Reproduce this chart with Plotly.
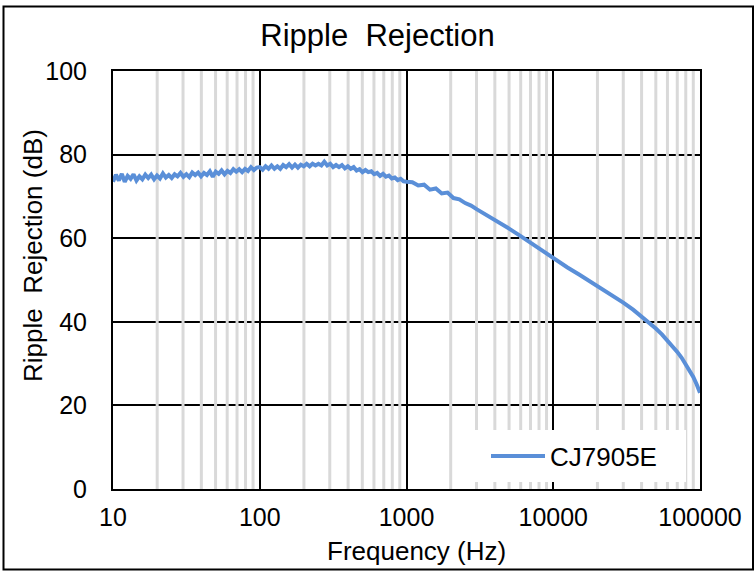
import plotly.graph_objects as go

# ---- data ----
freq_10_100 = [
    10.00, 10.47, 10.96, 11.48, 12.02, 12.59, 13.18, 13.80, 14.45, 15.14,
    15.85, 16.60, 17.38, 18.20, 19.05, 19.95, 20.89, 21.88, 22.91, 23.99,
    25.12, 26.30, 27.54, 28.84, 30.20, 31.62, 33.11, 34.67, 36.31, 38.02,
    39.81, 41.69, 43.65, 45.71, 47.86, 50.12, 52.48, 54.95, 57.54, 60.26,
    63.10, 66.07, 69.18, 72.44, 75.86, 79.43, 83.18, 87.10, 91.20, 95.50,
]
rr_10_100 = [
    73.5, 75.2, 73.8, 75.4, 73.5, 74.9, 74.2, 75.3, 73.8, 74.8,
    74.1, 75.2, 74.4, 75.2, 74.1, 75.0, 74.3, 75.5, 74.5, 75.1,
    74.4, 75.3, 74.8, 75.6, 74.7, 75.3, 74.6, 75.7, 75.1, 75.7,
    74.8, 75.6, 75.1, 76.0, 74.7, 75.9, 75.4, 76.2, 75.3, 76.1,
    75.6, 76.5, 75.9, 76.5, 75.8, 76.6, 76.1, 77.0, 76.3, 76.9,
]
freq_100_1000 = [
    100.0, 104.7, 109.6, 114.8, 120.2, 125.9, 131.8, 138.0, 144.5, 151.4,
    158.5, 166.0, 173.8, 182.0, 190.5, 199.5, 208.9, 218.8, 229.1, 239.9,
    251.2, 263.0, 275.4, 288.4, 302.0, 316.2, 331.1, 346.7, 363.1, 380.2,
    398.1, 416.9, 436.5, 457.1, 478.6, 501.2, 524.8, 549.5, 575.4, 602.6,
    631.0, 660.7, 691.8, 724.4, 758.6, 794.3, 831.8, 871.0, 912.0, 955.0,
]
rr_100_1000 = [
    77.0, 76.4, 77.2, 76.6, 77.4, 76.6, 77.2, 76.6, 77.5, 77.0,
    77.7, 76.9, 77.6, 76.9, 77.6, 77.2, 77.8, 77.2, 77.8, 77.4,
    77.8, 77.4, 78.3, 77.4, 77.8, 77.0, 77.5, 77.0, 77.5, 76.7,
    77.2, 76.6, 77.0, 76.2, 76.5, 75.8, 76.3, 75.8, 76.0, 75.3,
    75.6, 74.9, 75.4, 74.7, 75.0, 74.3, 74.5, 73.9, 74.2, 73.6,
]
freq_1k_100k = [
    1000, 1096, 1202, 1318, 1445, 1585, 1738, 1905, 2089, 2291,
    2512, 2754, 3020, 3500, 4000, 5000, 6000, 7000, 8000, 10000,
    12500, 15000, 20000, 25000, 30000, 35000, 40000, 45000, 50000, 55000,
    60000, 65000, 70000, 75000, 80000, 85000, 90000, 95000, 100000,
]
rr_1k_100k = [
    73.5, 73.4, 72.6, 72.8, 71.6, 71.9, 70.7, 70.9, 69.6, 69.3,
    68.4, 67.8, 66.9, 65.6, 64.4, 62.3, 60.5, 58.9, 57.5, 55.2,
    53.0, 51.3, 48.6, 46.5, 44.6, 42.9, 41.3, 39.8, 38.4, 37.0,
    35.6, 34.2, 32.8, 31.4, 29.9, 28.4, 26.8, 25.0, 23.0,
]
freq_hz = freq_10_100 + freq_100_1000 + freq_1k_100k
ripple_db = rr_10_100 + rr_100_1000 + rr_1k_100k

series_name = "CJ7905E"
chart_title = "Ripple\u00a0 Rejection"
x_title = "Frequency (Hz)"
y_title = "Ripple\u00a0 Rejection (dB)"
x_tick_vals = [10, 100, 1000, 10000, 100000]
x_tick_text = ["10", "100", "1000", "10000", "100000"]
y_tick_vals = [0, 20, 40, 60, 80, 100]
minor_steps = [2, 3, 4, 5, 6, 7, 8, 9]
decades = [10, 100, 1000, 10000]

# ---- layout geometry (pixels) ----
W, H = 755, 571
L, R, T, B = 113, 700, 71, 489
pw, ph = R - L, B - T

FONT = "Liberation Sans, Arial, sans-serif"
BLUE = "#5a8fd8"


def px_x(p):
    return (p - L) / pw


def px_y(p):
    return (B - p) / ph


fig = go.Figure()

# minor vertical grid lines (gray), drawn above the black major grid
gx, gy = [], []
for d in decades:
    for m in minor_steps:
        gx += [m * d, m * d, None]
        gy += [0, 100, None]
fig.add_trace(go.Scatter(
    x=gx, y=gy, mode="lines", line=dict(color="#d9d9d9", width=3),
    showlegend=False, hoverinfo="skip",
))

fig.add_trace(go.Scatter(
    x=freq_hz, y=ripple_db, mode="lines", name=series_name,
    line=dict(color=BLUE, width=4),
))

fig.update_layout(
    width=W, height=H,
    margin=dict(l=L, r=W - R, t=T, b=H - B, pad=0),
    paper_bgcolor="white", plot_bgcolor="white",
    font=dict(family=FONT, color="black", size=25),
    title=dict(text=chart_title, x=0.5, xanchor="center",
               y=1 - 35.5 / H, yanchor="middle", font=dict(size=31, family=FONT)),
    xaxis=dict(
        type="log", range=[1, 5],
        tickvals=x_tick_vals, ticktext=x_tick_text,
        showgrid=True, gridcolor="black", gridwidth=2,
        showline=True, linecolor="black", linewidth=2, mirror=True,
        ticks="", ticklabelstandoff=5,
        tickfont=dict(size=25),
        zeroline=False,
    ),
    yaxis=dict(
        range=[0, 100], tickvals=y_tick_vals,
        showgrid=True, gridcolor="black", gridwidth=2,
        showline=True, linecolor="black", linewidth=2, mirror=True,
        ticks="", ticklabelstandoff=19,
        tickfont=dict(size=25),
        zeroline=False,
    ),
    legend=dict(
        x=px_x(486), xanchor="left",
        y=px_y(456), yanchor="middle",
        bgcolor="rgba(0,0,0,0)", borderwidth=0,
        font=dict(size=26, family=FONT),
        itemwidth=54,
    ),
    annotations=[
        dict(text=x_title, xref="paper", yref="paper",
             x=px_x(416), y=px_y(551), xanchor="center", yanchor="middle",
             showarrow=False, font=dict(size=26, family=FONT)),
        dict(text=y_title, xref="paper", yref="paper", textangle=-90,
             x=px_x(33), y=px_y(256), xanchor="center", yanchor="middle",
             showarrow=False, font=dict(size=26, family=FONT)),
    ],
    shapes=[
        # legend background
        dict(type="rect", xref="paper", yref="paper",
             x0=px_x(475), x1=px_x(686), y0=px_y(482), y1=px_y(430),
             line=dict(width=0), fillcolor="white", layer="above"),
        # outer chart border
        dict(type="rect", xref="paper", yref="paper",
             x0=px_x(3.5), x1=px_x(753), y0=px_y(569.5), y1=px_y(6.5),
             line=dict(color="black", width=2), fillcolor="rgba(0,0,0,0)",
             layer="above"),
    ],
)

fig.write_html("out.html", config={"displayModeBar": False},
               post_script="document.body.style.margin='0';")
